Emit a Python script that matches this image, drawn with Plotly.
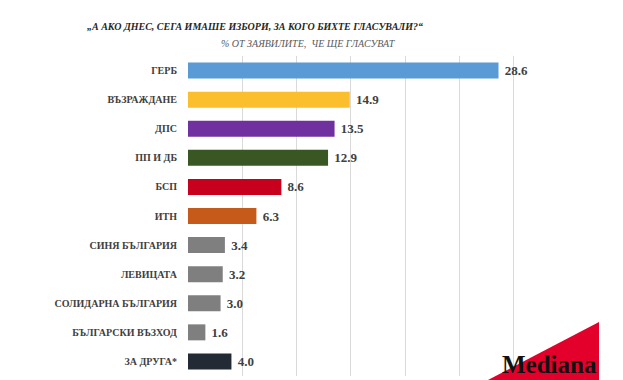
import plotly.graph_objects as go

parties = ["ГЕРБ", "ВЪЗРАЖДАНЕ", "ДПС", "ПП И ДБ", "БСП", "ИТН", "СИНЯ БЪЛГАРИЯ",
           "ЛЕВИЦАТА", "СОЛИДАРНА БЪЛГАРИЯ", "БЪЛГАРСКИ ВЪЗХОД", "ЗА ДРУГА*"]
values = [28.6, 14.9, 13.5, 12.9, 8.6, 6.3, 3.4, 3.2, 3.0, 1.6, 4.0]
colors = ["#5B9BD5", "#FBBF2E", "#7030A0", "#385723", "#C8001E", "#C55A1A",
          "#7F7F7F", "#7F7F7F", "#7F7F7F", "#7F7F7F", "#222A35"]

SERIF = "Liberation Serif"

fig = go.Figure()
fig.add_trace(go.Bar(
    y=parties, x=values, orientation="h",
    marker=dict(color=colors, line=dict(width=0)),
    texttemplate="\u00a0%{x:.1f}", textposition="outside",
    textfont=dict(family=SERIF, size=13, color="#404040", weight="bold"),
    cliponaxis=False, width=0.55,
))

fig.update_layout(
    width=623, height=380,
    margin=dict(l=188, r=55, t=56, b=4),
    paper_bgcolor="white", plot_bgcolor="white",
    showlegend=False,
    font=dict(family=SERIF),
    xaxis=dict(range=[0, 35], dtick=5, showgrid=True, gridcolor="#DADADA", gridwidth=1,
               showticklabels=False, zeroline=False, showline=False, ticks=""),
    yaxis=dict(autorange="reversed", showgrid=False, showline=False, ticks="",
               ticklabelstandoff=10,
               tickfont=dict(family=SERIF, size=10, color="#404040", weight="bold")),
)

fig.add_annotation(text="<b><i>„А АКО ДНЕС, СЕГА ИМАШЕ ИЗБОРИ, ЗА КОГО БИХТЕ ГЛАСУВАЛИ?“</i></b>",
                   xref="paper", yref="paper", x=(255 - 188) / 380, y=1 + (56 - 26) / 320,
                   xanchor="center", yanchor="middle", showarrow=False,
                   font=dict(family=SERIF, size=10, color="#262626"))
fig.add_annotation(text="<i>% ОТ ЗАЯВИЛИТЕ,  ЧЕ ЩЕ ГЛАСУВАТ</i>",
                   xref="paper", yref="paper", x=(308 - 188) / 380, y=1 + (56 - 43) / 320,
                   xanchor="center", yanchor="middle", showarrow=False,
                   font=dict(family=SERIF, size=10, color="#595959"))

# Mediana logo
fig.add_shape(type="path", xref="paper", yref="paper",
              path="M {x1},{y1} L {x2},{y2} L {x2},{y3} Z".format(
                  x1=(488 - 188) / 380, y1=-4 / 320, x2=(599 - 188) / 380,
                  y2=(376 - 322) / 320, y3=-4 / 320),
              fillcolor="#E3002B", line=dict(width=0), layer="above")
fig.add_annotation(text="<b>Mediana</b>", xref="paper", yref="paper",
                   x=(549 - 188) / 380, y=(376 - 364) / 320, xanchor="center", yanchor="middle",
                   showarrow=False,
                   font=dict(family=SERIF, size=25, color="#111111"))

fig.write_html("out.html")
